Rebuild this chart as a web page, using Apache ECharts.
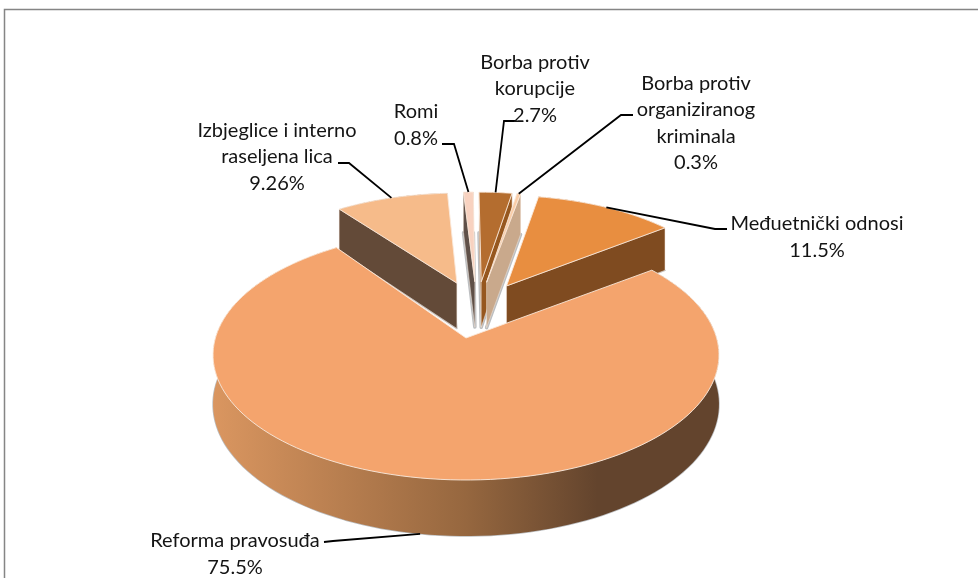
<!DOCTYPE html>
<html>
<head>
<meta charset="utf-8">
<style>html,body{margin:0;padding:0;background:#fff}#chart{width:978px;height:578px}</style>
<script src="https://cdn.jsdelivr.net/npm/echarts@6/dist/echarts.min.js"></script>
</head>
<body>
<div id="chart"></div>
<script>
// slices clockwise from startAngle
var sliceNames = ['Reforma pravosuđa', 'Izbjeglice i interno\nraseljena lica', 'Romi',
    'Borba protiv\nkorupcije', 'Borba protiv\norganiziranog\nkriminala', 'Međuetnički odnosi'];
var sliceValues = [75.5, 9.26, 0.8, 2.7, 0.3, 11.5];
var topColors = ['#f4a46d', '#f6bb8a', '#f8d2c0', '#b46d2f', '#f9cda8', '#e88e40'];
var wallColors = ['#63442d', '#634a38', '#5f5048', '#96571f', '#c9a98c', '#7f4b20'];

// projection of the tilted pie, fitted to the picture
var view = {
    cx: 466, cy: 338, R: 250.6, A: 122.7, k: 0.136, depth: 48.4,
    startAngle: 53.3, explode: 0.246, ox: 0.039, oy: 0.243,
    backRim: 0.93, backTurn: -1.3 // back slices sit a bit smaller and turned
};

// label text centre and leader elbow, same order as the slices
var labelBox = [
    { x: 235, y: 554, from: [324, 542], elbow: [333, 541] },
    { x: 277, y: 157, from: [338, 163], elbow: [349, 163] },
    { x: 416, y: 125, from: [442, 144], elbow: [454, 144] },
    { x: 535, y: 89, from: [516, 121], elbow: [504, 121] },
    { x: 696, y: 123, from: [633, 115], elbow: [621, 115] },
    { x: 817, y: 237, from: [727, 229], elbow: [715, 229] }
];
var labelFont = '20px Lato, "Open Sans", sans-serif';

var total = sliceValues.reduce(function (a, b) { return a + b; }, 0);
function rad(d) { return d * Math.PI / 180; }
function project(X, Y, z) {
    var s = 1 / (1 + view.k * Y);
    return [view.cx + view.R * X * s, view.cy - view.A * Y * s + z * view.depth * s];
}
function sliceGeom(i) {
    var start = view.startAngle;
    for (var j = 0; j < i; j++) start += sliceValues[j] / total * 360;
    var sweep = sliceValues[i] / total * 360;
    var mid = start + sweep / 2;
    return {
        start: i === 0 ? start : start + view.backTurn,
        sweep: sweep,
        mid: i === 0 ? mid : mid + view.backTurn,
        rim: i === 0 ? 1 : view.backRim,
        ax: view.ox + view.explode * Math.sin(rad(mid)),
        ay: view.oy + view.explode * Math.cos(rad(mid))
    };
}
function onArc(g, deg, z) {
    return project(g.ax + g.rim * Math.sin(rad(deg)), g.ay + g.rim * Math.cos(rad(deg)), z);
}
function arcPoints(g, z) {
    var n = Math.max(2, Math.ceil(g.sweep / 2)), pts = [];
    for (var j = 0; j <= n; j++) pts.push(onArc(g, g.start + g.sweep * j / n, z));
    return pts;
}
function poly(points, fill, stroke, lineWidth) {
    return {
        type: 'polygon', silent: true,
        shape: { points: points },
        style: { fill: fill, stroke: stroke || null, lineWidth: lineWidth || 0, lineJoin: 'round' }
    };
}
function wallFill(i) {
    if (i !== 0) return wallColors[i];
    return {
        type: 'linear', x: 213, y: 0, x2: 719, y2: 0, global: true,
        colorStops: [{ offset: 0, color: '#da9660' }, { offset: 0.5, color: '#96673f' },
            { offset: 0.76, color: '#63442d' }, { offset: 1, color: '#63442d' }]
    };
}

// back slices first, main slice last so that it covers them
function renderSlice(params, api) {
    var i = api.value(0);
    var g = sliceGeom(i);
    var apexTop = project(g.ax, g.ay, 0);
    var apexBottom = project(g.ax, g.ay, 1);
    var arcTop = arcPoints(g, 0);
    var arcBottom = arcPoints(g, 1);
    var children = [];
    var fill = wallFill(i);

    // shadow showing around the bottom of the slice, wider on the thin ones
    children.push(poly([apexBottom].concat(arcBottom), '#a6a8aa', '#bcbec0', g.sweep < 15 ? 3.5 : 1.5));
    children.push(poly(arcTop.concat(arcBottom.slice().reverse()), fill));

    var first = arcTop[0], last = arcTop[arcTop.length - 1];
    if (first[0] < apexTop[0]) {
        children.push(poly([apexTop, first, arcBottom[0], apexBottom], fill, '#f3e4d8', 0.5));
    }
    if (last[0] > apexTop[0]) {
        children.push(poly([last, apexTop, apexBottom, arcBottom[arcBottom.length - 1]], fill, '#f3e4d8', 0.5));
    }
    children.push(poly([apexTop].concat(arcTop), topColors[i], '#fbe9da', 0.9));
    return { type: 'group', children: children };
}

function renderLabel(params, api) {
    var i = api.value(0);
    var g = sliceGeom(i);
    var box = labelBox[i];
    // leader ends on the slice rim at its middle, the main slice on its front wall
    var end = onArc(g, g.mid, i === 0 ? 1 : 0);
    return {
        type: 'group',
        children: [{
            type: 'polyline', silent: true,
            shape: { points: [box.from, box.elbow, end] },
            style: { stroke: '#000', lineWidth: 1.8, fill: null }
        }, {
            type: 'text', silent: true,
            style: {
                text: sliceNames[i] + '\n' + sliceValues[i] + '%',
                x: box.x, y: box.y, align: 'center', verticalAlign: 'middle',
                font: labelFont, lineHeight: 26.3, fill: '#141414'
            }
        }]
    };
}

var drawOrder = [1, 2, 3, 4, 5, 0];
var chart = echarts.init(document.getElementById('chart'));
chart.setOption({
    animation: false,
    graphic: [{
        type: 'polyline', silent: true,
        shape: { points: [[4.5, 578], [4.5, 9.5], [978, 9.5]] },
        style: { stroke: '#858585', lineWidth: 1.5, fill: null }
    }],
    series: [{
        type: 'custom', coordinateSystem: 'none', clip: false,
        renderItem: renderSlice,
        data: drawOrder.map(function (i) { return [i]; })
    }, {
        type: 'custom', coordinateSystem: 'none', clip: false, z: 3,
        renderItem: renderLabel,
        data: sliceNames.map(function (n, i) { return [i]; })
    }]
});
</script>
</body>
</html>
